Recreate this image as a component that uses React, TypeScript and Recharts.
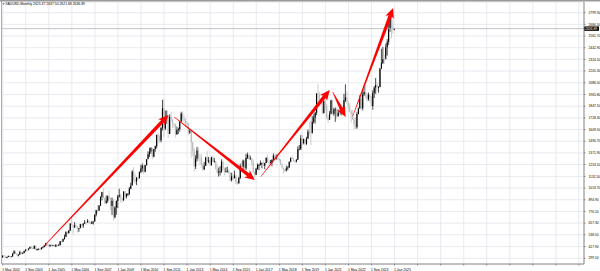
import { ComposedChart, Bar, XAxis, YAxis, CartesianGrid, ReferenceLine } from 'recharts';

// XAUUSD monthly, May 2002 .. Jan 2025 (one entry per month)
const firstOpen = 308;

const closes = [
  326, 318, 304, 312, 323, 317, 318, 347, // 2002 May-Dec
  368, 347, 334, 336, 364, 346, 354, 375, 388, 386, 398, 416, // 2003
  402, 397, 427, 388, 393, 395, 391, 407, 415, 428, 453, 438, // 2004
  422, 435, 428, 435, 417, 436, 429, 433, 473, 470, 495, 517, // 2005
  569, 556, 583, 654, 643, 614, 633, 624, 599, 604, 646, 632, // 2006
  651, 665, 662, 680, 659, 650, 666, 673, 743, 789, 783, 834, // 2007
  923, 972, 916, 865, 885, 928, 913, 833, 884, 717, 815, 882, // 2008
  928, 942, 917, 891, 979, 927, 954, 955, 1008, 1040, 1182, 1097, // 2009
  1081, 1118, 1113, 1180, 1213, 1244, 1181, 1248, 1307, 1358, 1386, 1421, // 2010
  1333, 1411, 1439, 1556, 1536, 1500, 1628, 1826, 1620, 1722, 1746, 1565, // 2011
  1740, 1710, 1669, 1664, 1562, 1604, 1614, 1692, 1773, 1720, 1712, 1676, // 2012
  1664, 1579, 1596, 1476, 1393, 1234, 1313, 1396, 1327, 1323, 1253, 1202, // 2013
  1240, 1326, 1284, 1296, 1250, 1327, 1282, 1287, 1209, 1171, 1183, 1183, // 2014
  1283, 1213, 1183, 1184, 1190, 1172, 1095, 1133, 1115, 1142, 1065, 1061, // 2015
  1117, 1238, 1233, 1293, 1215, 1322, 1351, 1309, 1316, 1277, 1173, 1151, // 2016
  1211, 1249, 1249, 1268, 1268, 1242, 1269, 1322, 1280, 1271, 1275, 1303, // 2017
  1345, 1318, 1325, 1315, 1299, 1253, 1224, 1201, 1192, 1215, 1223, 1282, // 2018
  1321, 1313, 1292, 1284, 1305, 1409, 1413, 1520, 1472, 1513, 1464, 1517, // 2019
  1589, 1585, 1577, 1687, 1730, 1781, 1975, 1967, 1886, 1879, 1776, 1898, // 2020
  1847, 1734, 1708, 1769, 1906, 1770, 1814, 1814, 1743, 1783, 1774, 1829, // 2021
  1796, 1909, 1937, 1896, 1837, 1807, 1766, 1711, 1660, 1633, 1768, 1824, // 2022
  1928, 1827, 1969, 1990, 1963, 1919, 1965, 1940, 1849, 1983, 2036, 2063, // 2023
  2039, 2044, 2230, 2286, 2327, 2326, 2447, 2503, 2635, 2743, 2657, 2625, // 2024
  2636.89, // 2025 Jan
];

const highs = [
  328, 331, 330, 315, 326, 325, 322, 349,
  383, 375, 352, 341, 375, 366, 360, 376, 390, 396, 399, 417,
  427, 409, 428, 428, 398, 399, 408, 411, 419, 434, 456, 456,
  439, 439, 446, 437, 436, 443, 432, 448, 474, 479, 498, 541,
  572, 574, 585, 654, 730, 631, 667, 650, 626, 608, 650, 641,
  658, 689, 671, 698, 689, 672, 679, 676, 745, 792, 841, 842,
  931, 976, 1011, 917, 938, 942, 987, 916, 918, 905, 830, 888,
  944, 1007, 959, 913, 982, 982, 960, 964, 1025, 1070, 1195, 1227,
  1162, 1127, 1127, 1180, 1249, 1265, 1241, 1250, 1308, 1388, 1424, 1431,
  1424, 1411, 1447, 1557, 1577, 1553, 1632, 1912, 1920, 1803, 1804, 1763,
  1764, 1792, 1718, 1676, 1668, 1640, 1629, 1693, 1790, 1796, 1755, 1723,
  1694, 1675, 1617, 1606, 1487, 1424, 1348, 1434, 1425, 1361, 1361, 1267,
  1280, 1332, 1392, 1331, 1315, 1332, 1345, 1322, 1287, 1255, 1223, 1238,
  1307, 1296, 1224, 1224, 1232, 1205, 1174, 1170, 1157, 1191, 1144, 1088,
  1128, 1263, 1283, 1304, 1303, 1362, 1375, 1366, 1343, 1318, 1304, 1183,
  1220, 1264, 1262, 1295, 1275, 1296, 1271, 1327, 1357, 1306, 1299, 1306,
  1366, 1361, 1356, 1365, 1316, 1309, 1265, 1218, 1214, 1243, 1236, 1284,
  1326, 1347, 1324, 1300, 1306, 1439, 1453, 1555, 1557, 1518, 1515, 1535,
  1611, 1689, 1704, 1747, 1765, 1789, 1981, 2075, 1992, 1933, 1965, 1906,
  1959, 1871, 1755, 1798, 1913, 1916, 1832, 1834, 1836, 1813, 1877, 1831,
  1853, 1974, 2070, 1998, 1870, 1879, 1789, 1807, 1735, 1730, 1787, 1833,
  1959, 1960, 2009, 2049, 2063, 1984, 1987, 1949, 1953, 2009, 2052, 2135,
  2088, 2052, 2236, 2431, 2451, 2368, 2483, 2531, 2685, 2790, 2762, 2726,
  2637.5,
];

const lows = [
  307, 315, 302, 300, 311, 312, 314, 316,
  342, 343, 320, 318, 335, 340, 342, 351, 367, 371, 380, 393,
  399, 391, 392, 381, 375, 389, 383, 389, 398, 411, 423, 426,
  418, 416, 426, 423, 414, 415, 418, 429, 432, 459, 466, 490,
  516, 540, 549, 577, 635, 543, 609, 610, 560, 568, 612, 613,
  608, 653, 636, 669, 652, 642, 648, 642, 675, 725, 760, 784,
  833, 888, 909, 852, 853, 864, 897, 786, 739, 681, 705, 742,
  810, 917, 867, 866, 883, 911, 908, 931, 943, 1001, 1043, 1075,
  1058, 1044, 1088, 1114, 1165, 1178, 1157, 1175, 1242, 1315, 1330, 1361,
  1308, 1328, 1384, 1417, 1462, 1478, 1479, 1600, 1535, 1604, 1668, 1523,
  1564, 1691, 1627, 1628, 1527, 1555, 1564, 1589, 1685, 1693, 1672, 1636,
  1626, 1555, 1565, 1321, 1338, 1180, 1208, 1284, 1293, 1251, 1221, 1187,
  1202, 1240, 1277, 1268, 1240, 1240, 1280, 1273, 1205, 1161, 1131, 1142,
  1168, 1191, 1142, 1175, 1170, 1162, 1077, 1081, 1098, 1111, 1053, 1046,
  1061, 1107, 1208, 1208, 1200, 1199, 1310, 1303, 1303, 1241, 1171, 1123,
  1146, 1200, 1195, 1245, 1215, 1237, 1205, 1268, 1272, 1260, 1264, 1236,
  1302, 1307, 1303, 1301, 1282, 1250, 1211, 1160, 1180, 1183, 1196, 1221,
  1276, 1311, 1281, 1266, 1275, 1299, 1400, 1400, 1459, 1459, 1445, 1454,
  1517, 1548, 1451, 1568, 1670, 1671, 1757, 1863, 1849, 1860, 1765, 1776,
  1802, 1717, 1677, 1721, 1765, 1761, 1750, 1688, 1721, 1746, 1762, 1753,
  1780, 1786, 1890, 1872, 1787, 1785, 1681, 1711, 1615, 1617, 1617, 1765,
  1823, 1805, 1805, 1950, 1933, 1893, 1902, 1885, 1849, 1810, 1931, 1973,
  2001, 1984, 2039, 2229, 2277, 2277, 2353, 2364, 2471, 2604, 2537, 2583,
  2621.68,
];

const lastOpen = 2625.37;

const dateLabels = [
  '1 May 2002', '1 Sep 2003', '1 Jan 2005', '1 May 2006', '1 Sep 2007', '1 Jan 2009',
  '1 May 2010', '1 Sep 2011', '1 Jan 2013', '1 May 2014', '1 Sep 2015', '1 Jan 2017',
  '1 May 2018', '1 Sep 2019', '1 Jan 2021', '1 May 2022', '1 Sep 2023', '1 Jan 2025',
];

const priceTicks = [
  2799.3, 2680.5, 2561.7, 2442.9, 2324.1, 2205.3, 2086.5, 1965.8, 1847.1, 1728.3, 1609.5,
  1490.7, 1371.9, 1253.1, 1132.5, 1013.7, 894.9, 776.1, 657.3, 538.5, 417.9, 299.1,
];

// red trend arrows: [month index, price] -> [month index, price]
const arrows = [
  { x1: 28, y1: 414, x2: 115, y2: 1758 },
  { x1: 119, y1: 1737, x2: 175, y2: 1096 },
  { x1: 179, y1: 1127, x2: 227, y2: 2012 },
  { x1: 229, y1: 1992, x2: 238, y2: 1737 },
  { x1: 243, y1: 1747, x2: 271, y2: 2847 },
];

const TOTAL_SLOTS = 404; // chart shift: empty space right of the last bar
const LABEL_STEP = 16;

const chartData = Array.from({ length: TOTAL_SLOTS }, (_, i) => {
  if (i >= closes.length) return { i, hl: null };
  const open = i === closes.length - 1 ? lastOpen : i === 0 ? firstOpen : closes[i - 1];
  return { i, open, high: highs[i], low: lows[i], close: closes[i], hl: [lows[i], highs[i]] };
});

const FONT = '"Liberation Sans", Arial, sans-serif';

function Candle(props: any) {
  const { x, y, width, height, payload } = props;
  if (!payload || payload.open == null) return null;
  const { open, close, high, low } = payload;
  const top = Math.min(y, y + height);
  const h = Math.abs(height);
  const ppu = high > low ? h / (high - low) : 0;
  const yO = top + (high - open) * ppu;
  const yC = top + (high - close) * ppu;
  const color = close >= open ? '#000000' : '#b9b9b9';
  const cx = x + width / 2;
  return (
    <g>
      <line x1={cx} x2={cx} y1={top} y2={top + h} stroke={color} strokeWidth={0.7} />
      <rect x={x} y={Math.min(yO, yC)} width={width} height={Math.max(0.8, Math.abs(yO - yC))} fill={color} />
    </g>
  );
}

function Arrow(props: any) {
  const { x1, y1, x2, y2 } = props;
  if (x1 == null || x2 == null) return null;
  const dx = x2 - x1;
  const dy = y2 - y1;
  const len = Math.sqrt(dx * dx + dy * dy) || 1;
  const ux = dx / len;
  const uy = dy / len;
  const nx = -uy;
  const ny = ux;
  const headLen = 10;
  const headW = 4.5;
  const bx = x2 - ux * headLen;
  const by = y2 - uy * headLen;
  const sx = x2 - ux * headLen * 0.75;
  const sy = y2 - uy * headLen * 0.75;
  const shaft = [
    [x1 + nx * 0.25, y1 + ny * 0.25],
    [sx + nx * 1.8, sy + ny * 1.8],
    [sx - nx * 1.8, sy - ny * 1.8],
    [x1 - nx * 0.25, y1 - ny * 0.25],
  ];
  const head = [
    [x2, y2],
    [bx + nx * headW, by + ny * headW],
    [sx, sy],
    [bx - nx * headW, by - ny * headW],
  ];
  const pts = (a: number[][]) => a.map((p) => `${p[0]},${p[1]}`).join(' ');
  return (
    <g>
      <polygon points={pts(shaft)} fill="#ff0000" />
      <polygon points={pts(head)} fill="#ff0000" />
    </g>
  );
}

function DateTick(props: any) {
  const { x, y, payload } = props;
  const label = dateLabels[payload.value / LABEL_STEP];
  if (!label) return null;
  return (
    <text x={x - 0.5} y={y + 3.6} fontSize={3.4} fontFamily={FONT} fill="#000" textAnchor="start">
      {label}
    </text>
  );
}

function PriceTick(props: any) {
  const { x, y, payload } = props;
  return (
    <text x={x + 1} y={y + 1.2} fontSize={3.3} fontFamily={FONT} fill="#000" textAnchor="start">
      {payload.value.toFixed(2)}
    </text>
  );
}

function PriceTag(props: any) {
  const vb = props.viewBox || {};
  const right = (vb.x || 0) + (vb.width || 0);
  const y = vb.y || 0;
  return (
    <g>
      <rect x={right} y={y - 2.2} width={15} height={4.4} fill="#000" />
      <text x={right + 1.2} y={y + 1.2} fontSize={3.3} fontFamily={FONT} fill="#fff">
        {closes[closes.length - 1].toFixed(2)}
      </text>
    </g>
  );
}

export default function App() {
  return (
    <div style={{ position: 'absolute', left: 0, top: 0, width: 600, height: 271, background: '#fff' }}>
      <ComposedChart width={600} height={271} data={chartData} margin={{ top: 2, right: 0, bottom: 0, left: 2 }}>
        <CartesianGrid stroke="#e3e5ec" strokeWidth={0.8} />
        <XAxis
          dataKey="i"
          type="category"
          interval={LABEL_STEP - 1}
          height={7}
          tick={<DateTick />}
          tickSize={1.5}
          tickLine={{ stroke: '#888' }}
          axisLine={{ stroke: '#8a8a8a' }}
        />
        <YAxis
          orientation="right"
          width={16}
          domain={[241, 2908]}
          ticks={priceTicks}
          interval={0}
          tick={<PriceTick />}
          tickSize={1.5}
          tickLine={{ stroke: '#888' }}
          axisLine={{ stroke: '#8a8a8a' }}
          allowDataOverflow
        />
        <ReferenceLine y={closes[closes.length - 1]} stroke="#b4b4b4" strokeWidth={0.8} label={<PriceTag />} ifOverflow="visible" />
        <Bar dataKey="hl" barSize={1.1} shape={<Candle />} isAnimationActive={false} />
        {arrows.map((a, k) => (
          <ReferenceLine
            key={k}
            segment={[{ x: a.x1, y: a.y1 }, { x: a.x2, y: a.y2 }]}
            ifOverflow="visible"
            shape={(p: any) => <Arrow {...p} />}
          />
        ))}
      </ComposedChart>
      <svg width={600} height={271} style={{ position: 'absolute', left: 0, top: 0, pointerEvents: 'none' }}>
        <line x1={0} x2={600} y1={0.8} y2={0.8} stroke="#9a9a9a" strokeWidth={1.6} />
        <line x1={1.5} x2={1.5} y1={0} y2={264} stroke="#9a9a9a" strokeWidth={0.8} />
        <polygon points="2.6,3.2 4.6,3.2 3.6,5" fill="#555" />
        <text x={5.2} y={5.2} fontSize={3.4} fontFamily={FONT} fill="#000">
          XAUUSD,Monthly  2625.37 2637.50 2621.68 2636.89
        </text>
      </svg>
    </div>
  );
}
